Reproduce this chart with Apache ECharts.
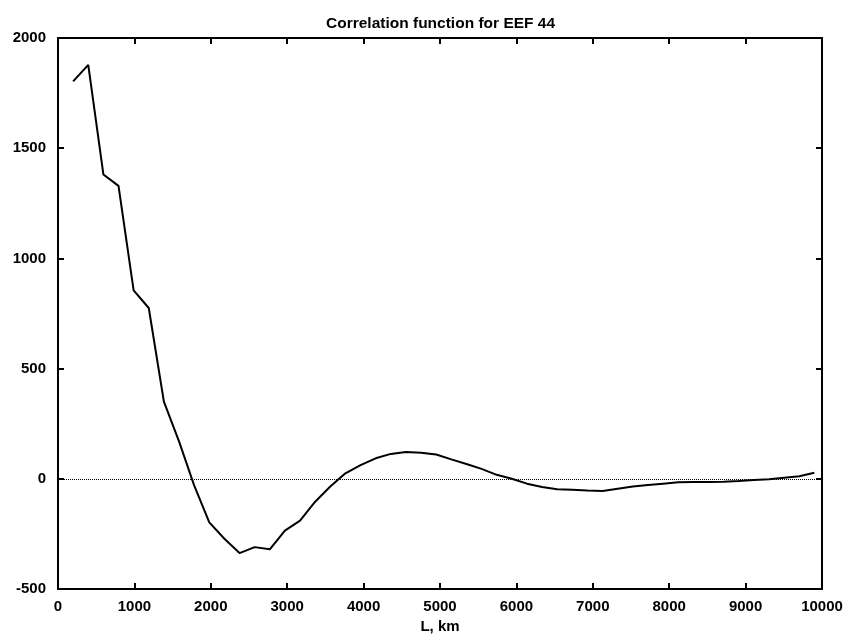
<!DOCTYPE html>
<html>
<head>
<meta charset="utf-8">
<script src="https://cdn.jsdelivr.net/npm/echarts@6/dist/echarts.min.js"></script>
<style>
  html, body { margin: 0; padding: 0; background: #fff; }
  #chart { width: 847px; height: 639px; }
</style>
</head>
<body>
<div id="chart"></div>
<script>
// distance L, km
const lValues = [
  198, 396, 594, 792, 990, 1188, 1386, 1584, 1782, 1980,
  2178, 2376, 2574, 2772, 2970, 3168, 3366, 3564, 3762, 3960,
  4158, 4356, 4554, 4752, 4950, 5148, 5346, 5544, 5742, 5940,
  6138, 6336, 6534, 6732, 6930, 7128, 7326, 7524, 7722, 7920,
  8118, 8316, 8514, 8712, 8910, 9108, 9306, 9504, 9702, 9900
]
// correlation values
const corrValues = [
  1803, 1878, 1381, 1329, 855, 775, 350, 170, -30, -198,
  -272, -337, -310, -320, -235, -190, -104, -35, 25, 62,
  93, 113, 122, 118, 110, 88, 67, 45, 18, 0,
  -22, -37, -47, -50, -53, -55, -45, -35, -28, -22,
  -16, -15, -14, -13, -10, -6, -2, 5, 12, 27
]
const xTicks = [0, 1000, 2000, 3000, 4000, 5000, 6000, 7000, 8000, 9000, 10000]
const yTicks = [-500, 0, 500, 1000, 1500, 2000]

const chart = echarts.init(document.getElementById('chart'))

const labelFont = {
  color: '#000',
  fontFamily: 'Liberation Sans, Arial, sans-serif',
  fontWeight: 'bold',
  fontSize: 15
}

const frameLine = { show: true, onZero: false, lineStyle: { color: '#000', width: 2 } }
const inTicks = { show: true, inside: true, length: 6, lineStyle: { color: '#000', width: 2 } }
const plain = v => String(v)

const data = lValues.map((l, i) => [l, corrValues[i]])

chart.setOption({
  animation: false,
  title: {
    text: 'Correlation function for EEF 44',
    left: 321,
    top: 11,
    textStyle: {
      color: '#000',
      fontFamily: 'Liberation Sans, Arial, sans-serif',
      fontWeight: 'bold',
      fontSize: 15.5
    }
  },
  grid: { left: 58, right: 25, top: 38, bottom: 45 },
  xAxis: [
    {
      type: 'value',
      min: xTicks[0],
      max: xTicks[xTicks.length - 1],
      interval: 1000,
      position: 'bottom',
      name: 'L, km',
      nameLocation: 'middle',
      nameGap: 30,
      nameTextStyle: labelFont,
      axisLine: frameLine,
      axisTick: inTicks,
      axisLabel: Object.assign({ margin: 10, formatter: plain }, labelFont),
      splitLine: { show: false }
    },
    {
      type: 'value',
      min: xTicks[0],
      max: xTicks[xTicks.length - 1],
      interval: 1000,
      position: 'top',
      axisLine: frameLine,
      axisTick: inTicks,
      axisLabel: { show: false },
      splitLine: { show: false }
    }
  ],
  yAxis: [
    {
      type: 'value',
      min: yTicks[0],
      max: yTicks[yTicks.length - 1],
      interval: 500,
      position: 'left',
      axisLine: frameLine,
      axisTick: inTicks,
      axisLabel: Object.assign({ margin: 12, formatter: plain }, labelFont),
      splitLine: { show: false }
    },
    {
      type: 'value',
      min: yTicks[0],
      max: yTicks[yTicks.length - 1],
      interval: 500,
      position: 'right',
      axisLine: frameLine,
      axisTick: inTicks,
      axisLabel: { show: false },
      splitLine: { show: false }
    }
  ],
  series: [
    {
      type: 'line',
      data: data,
      symbol: 'none',
      lineStyle: { color: '#000', width: 2 },
      markLine: {
        silent: true,
        symbol: 'none',
        label: { show: false },
        lineStyle: { color: '#000', width: 1, type: 'dotted' },
        data: [{ yAxis: 0 }]
      }
    }
  ]
})
</script>
</body>
</html>
